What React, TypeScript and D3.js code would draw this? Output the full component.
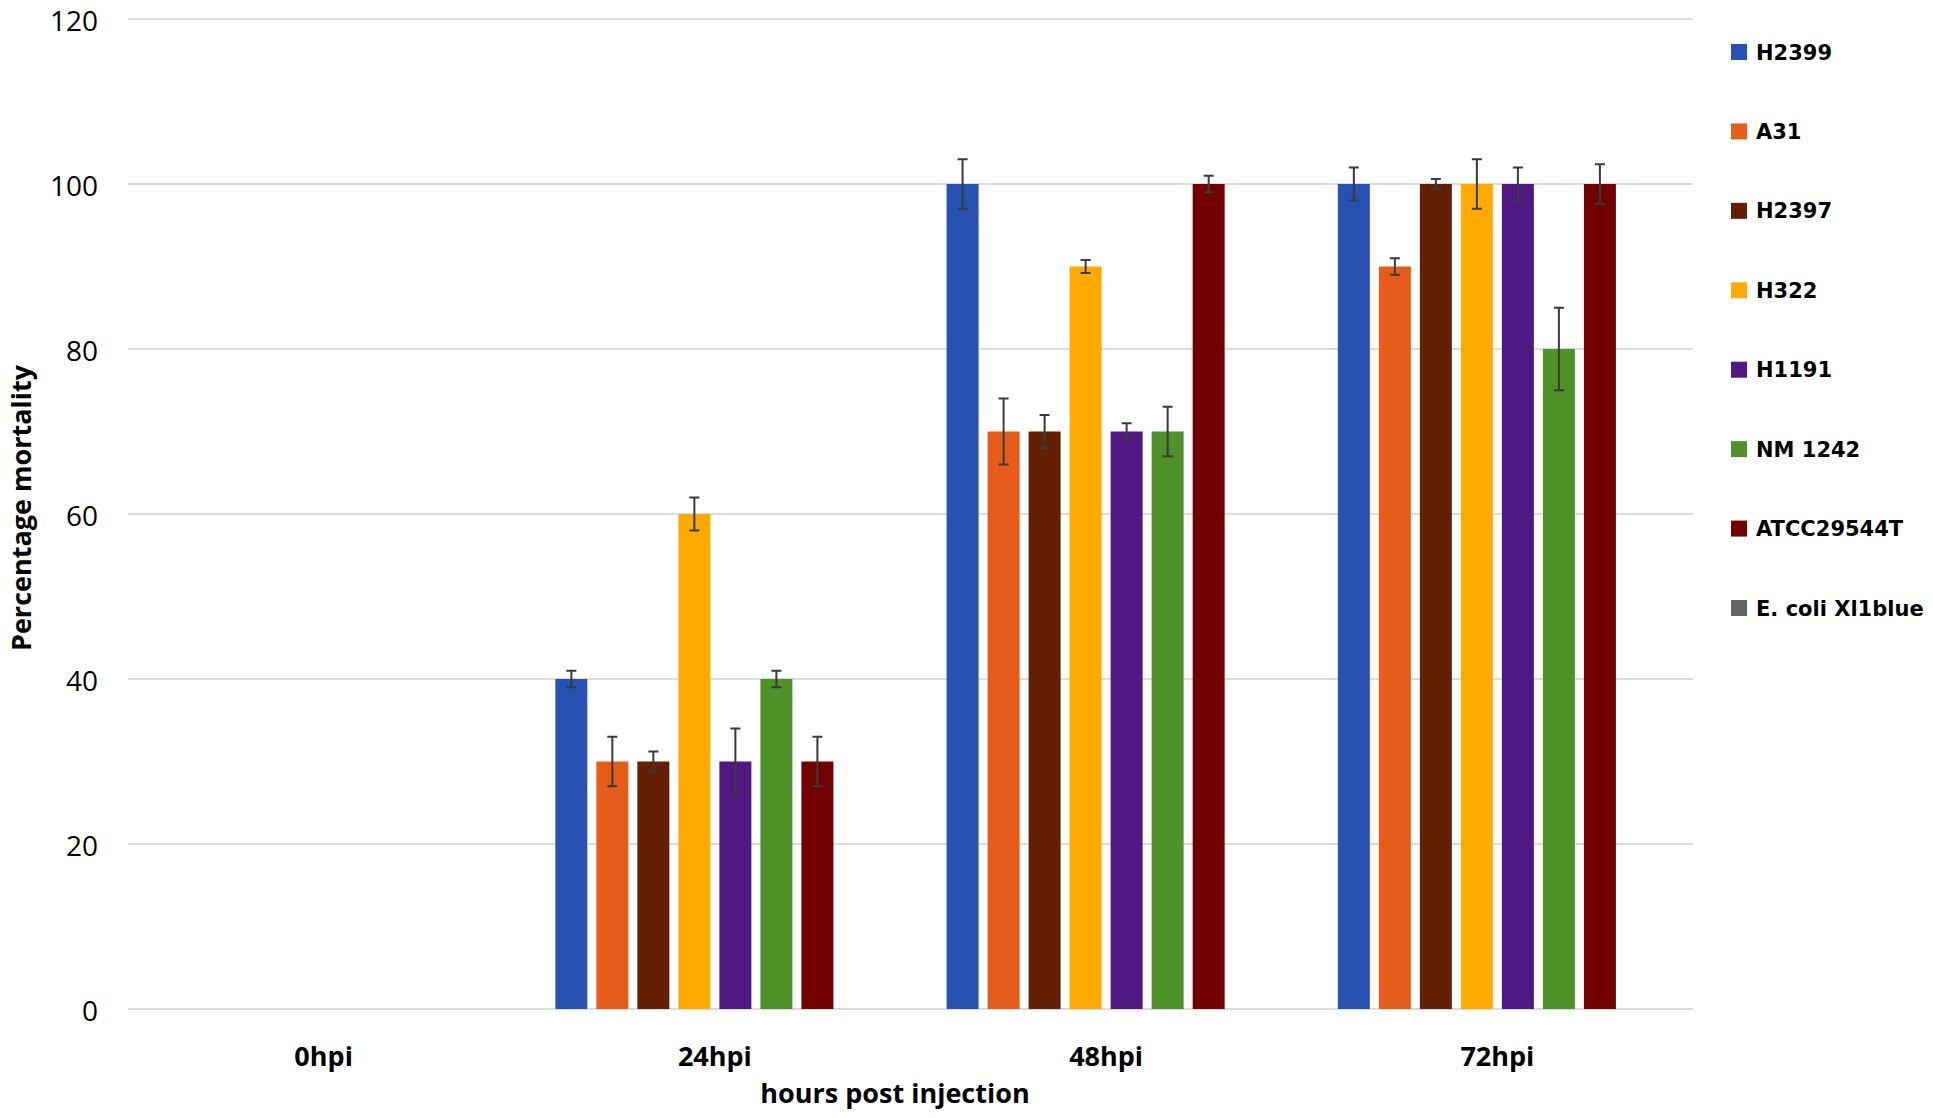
import React, { useEffect, useRef } from 'react';
import * as d3 from 'd3';

// time points (x categories)
const timePoints = ['0hpi', '24hpi', '48hpi', '72hpi'];

// strains (series) in legend order
const strains = ['H2399', 'A31', 'H2397', 'H322', 'H1191', 'NM 1242', 'ATCC29544T', 'E. coli Xl1blue'];
const strainColors = ['#2752b2', '#e65c1a', '#632005', '#ffaa00', '#501882', '#4f922a', '#730000', '#646464'];

// percentage mortality per strain, one value per time point
const h2399 = [0, 40, 100, 100];
const a31 = [0, 30, 70, 90];
const h2397 = [0, 30, 70, 100];
const h322 = [0, 60, 90, 100];
const h1191 = [0, 30, 70, 100];
const nm1242 = [0, 40, 70, 80];
const atcc29544t = [0, 30, 100, 100];
const ecoli = [0, 0, 0, 0];

// error bar sizes (+/-)
const h2399Err = [0, 1, 3, 2];
const a31Err = [0, 3, 4, 1];
const h2397Err = [0, 1.2, 2, 0.6];
const h322Err = [0, 2, 0.8, 3];
const h1191Err = [0, 4, 1, 2];
const nm1242Err = [0, 1, 3, 5];
const atcc29544tErr = [0, 3, 1, 2.4];
const ecoliErr = [0, 0, 0, 0];

const yTicks = [0, 20, 40, 60, 80, 100, 120];

const seriesValues = [h2399, a31, h2397, h322, h1191, nm1242, atcc29544t, ecoli];
const seriesErrors = [h2399Err, a31Err, h2397Err, h322Err, h1191Err, nm1242Err, atcc29544tErr, ecoliErr];

interface Bar {
    time: string;
    strain: string;
    color: string;
    value: number;
    err: number;
}

const App: React.FC = () => {
    const svgRef = useRef<SVGSVGElement>(null);

    useEffect(() => {
        if (!svgRef.current) return;
        const svg = d3.select(svgRef.current);
        svg.selectAll('*').remove();

        const left = 128, right = 1693, top = 19, bottom = 1009;
        const labelFont = '"Open Sans", "Liberation Sans", sans-serif';

        const x0 = d3.scaleBand<string>().domain(timePoints).range([left, right]).padding(0);
        const x1 = d3.scaleBand<string>()
            .domain(strains)
            .range([0, x0.bandwidth()])
            .paddingInner(0.22)
            .paddingOuter(0.88);
        const y = d3.scaleLinear().domain([0, 120]).range([bottom, top]);

        // gridlines
        svg.append('g')
            .selectAll('line')
            .data(yTicks)
            .join('line')
            .attr('x1', left)
            .attr('x2', right)
            .attr('y1', d => y(d))
            .attr('y2', d => y(d))
            .attr('stroke', '#d0d0d0')
            .attr('stroke-width', 1.5);

        // y tick labels
        svg.append('g')
            .selectAll('text')
            .data(yTicks)
            .join('text')
            .attr('x', 98)
            .attr('y', d => y(d) + 2)
            .attr('dy', '0.36em')
            .attr('text-anchor', 'end')
            .attr('font-family', labelFont)
            .attr('font-size', 28)
            .attr('fill', '#000')
            .text(d => d);

        const bars: Bar[] = [];
        timePoints.forEach((t, ti) => {
            strains.forEach((s, si) => {
                bars.push({ time: t, strain: s, color: strainColors[si], value: seriesValues[si][ti], err: seriesErrors[si][ti] });
            });
        });

        const barX = (d: Bar) => (x0(d.time) ?? 0) + (x1(d.strain) ?? 0);

        svg.append('g')
            .selectAll('rect')
            .data(bars.filter(d => d.value > 0))
            .join('rect')
            .attr('x', barX)
            .attr('y', d => y(d.value))
            .attr('width', x1.bandwidth())
            .attr('height', d => y(0) - y(d.value))
            .attr('fill', d => d.color);

        // error bars
        const errG = svg.append('g')
            .attr('stroke', '#3a3a3a')
            .attr('stroke-width', 2)
            .attr('fill', 'none');
        const capHalf = 5;
        bars.filter(d => d.err > 0).forEach(d => {
            const cx = barX(d) + x1.bandwidth() / 2;
            const yHi = y(d.value + d.err);
            const yLo = y(d.value - d.err);
            const path = d3.path();
            path.moveTo(cx, yHi); path.lineTo(cx, yLo);
            path.moveTo(cx - capHalf, yHi); path.lineTo(cx + capHalf, yHi);
            path.moveTo(cx - capHalf, yLo); path.lineTo(cx + capHalf, yLo);
            errG.append('path').attr('d', path.toString());
        });

        // x tick labels
        svg.append('g')
            .selectAll('text')
            .data(timePoints)
            .join('text')
            .attr('x', d => (x0(d) ?? 0) + x0.bandwidth() / 2)
            .attr('y', 1057)
            .attr('dy', '0.35em')
            .attr('text-anchor', 'middle')
            .attr('font-family', labelFont)
            .attr('font-weight', 'bold')
            .attr('font-size', 27)
            .attr('fill', '#000')
            .text(d => d);

        // axis titles
        svg.append('text')
            .attr('x', 895)
            .attr('y', 1094)
            .attr('dy', '0.35em')
            .attr('text-anchor', 'middle')
            .attr('font-family', labelFont)
            .attr('font-weight', 'bold')
            .attr('font-size', 27)
            .attr('fill', '#000')
            .text('hours post injection');

        svg.append('text')
            .attr('transform', 'translate(22,508) rotate(-90)')
            .attr('dy', '0.35em')
            .attr('text-anchor', 'middle')
            .attr('font-family', labelFont)
            .attr('font-weight', 'bold')
            .attr('font-size', 27)
            .attr('fill', '#000')
            .text('Percentage mortality');

        // legend
        const legendY = d3.scaleLinear().domain([0, strains.length - 1]).range([52, 608]);
        const legend = svg.append('g')
            .selectAll('g')
            .data(strains)
            .join('g')
            .attr('transform', (d, i) => `translate(1731,${legendY(i)})`);
        legend.append('rect')
            .attr('x', 0)
            .attr('y', -8)
            .attr('width', 16)
            .attr('height', 16)
            .attr('fill', (d, i) => strainColors[i]);
        legend.append('text')
            .attr('x', 25)
            .attr('y', 0)
            .attr('dy', '0.36em')
            .attr('font-family', '"DejaVu Sans", Verdana, sans-serif')
            .attr('font-weight', 'bold')
            .attr('font-size', 21)
            .attr('fill', '#000')
            .text(d => d);
    }, []);

    return (
        <svg ref={svgRef} width={1933} height={1118}
            style={{ position: 'absolute', left: 0, top: 0, background: '#fff' }}></svg>
    );
};

export default App;
